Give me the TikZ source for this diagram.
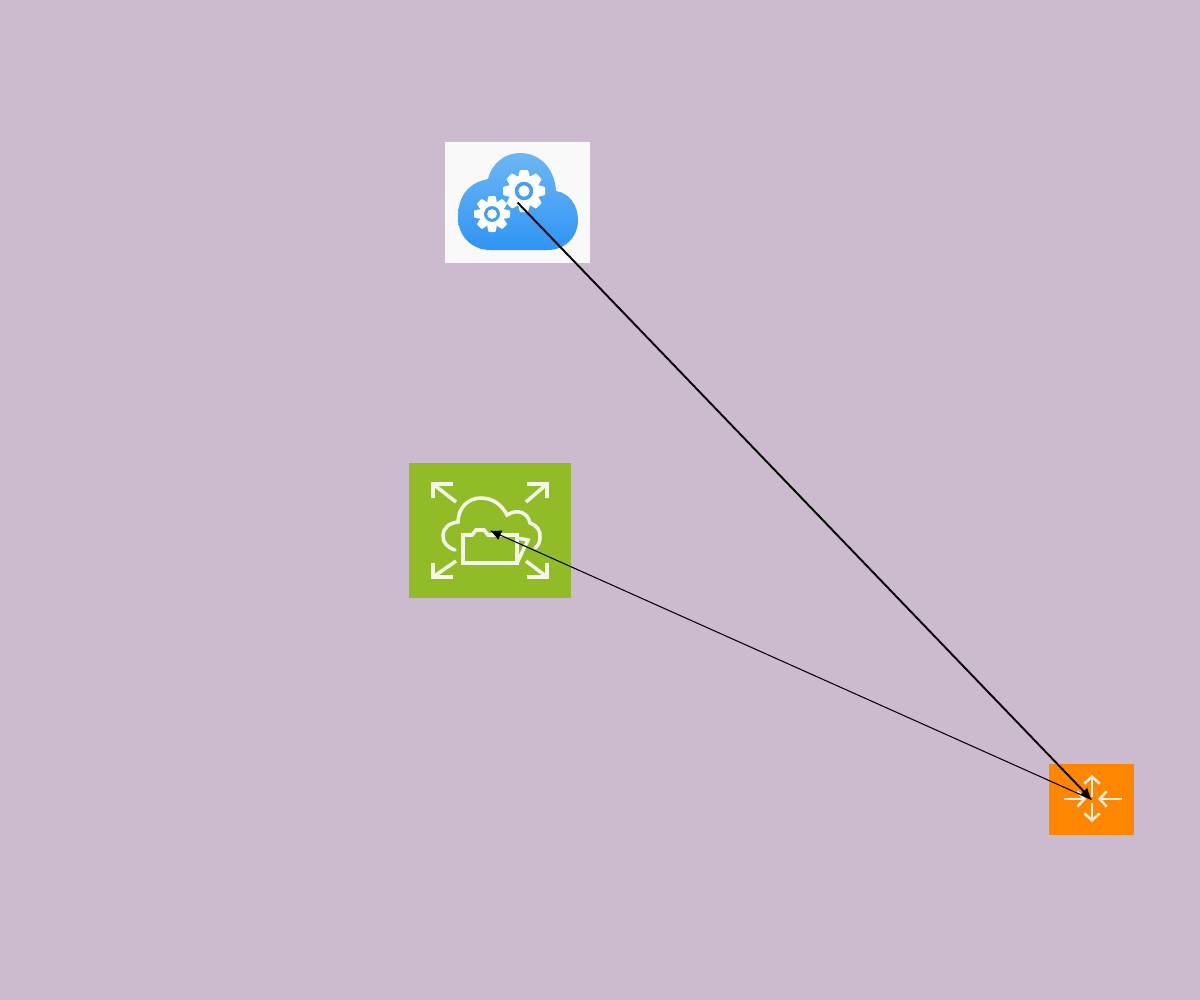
\documentclass[tikz,border=0pt]{standalone}
\usepackage{tikz}
\usetikzlibrary{arrows.meta}

\definecolor{bgmauve}{HTML}{CCBBCF}
\definecolor{cloudpaper}{HTML}{F9F9F9}
\definecolor{cloudtop}{HTML}{6DB6F5}
\definecolor{cloudbottom}{HTML}{2E95F3}
\definecolor{elbgreen}{HTML}{92BC27}
\definecolor{routerorange}{HTML}{FF8600}

\tikzset{
  iconbox/.style={draw=none, inner sep=0, outer sep=0},
  whiteline/.style={draw=white!90!elbgreen, line width=1pt, line join=miter},
  routerline/.style={draw=white!88!routerorange, line width=0.7pt,
    -{Straight Barb[length=2pt,width=4.4pt,line width=0.7pt]}},
  link/.style={black, -{Latex[length=3.2pt,width=3pt]}}
}

% gear: centre x, centre y, outer radius, body radius
\newcommand{\gearicon}[4]{
  \fill[white] (#1,#2) circle (#4);
  \foreach \ang in {0,45,...,315} {
    \fill[white, shift={(#1,#2)}, rotate=\ang, rounded corners=0.2pt]
      (#4-1,-0.27*#3) -- (#3,-0.19*#3) -- (#3,0.19*#3) -- (#4-1,0.27*#3) -- cycle;
  }
  \fill[cloudbottom!70!cloudtop] (#1,#2) circle (0.44*#3);
  \fill[white] (#1,#2) circle (0.27*#3);
}

\begin{document}
\begin{tikzpicture}[x=0.01cm, y=-0.01cm]
\useasboundingbox (0,0) rectangle (1200,1000);
\fill[bgmauve] (0,0) rectangle (1200,1000);

\node[iconbox, fill=cloudpaper, minimum width=1.45cm, minimum height=1.21cm] (cloud) at (517.5,202.5) {};
\node[iconbox, fill=elbgreen, minimum width=1.62cm, minimum height=1.35cm] (elb) at (490,530.5) {};
\node[iconbox, fill=routerorange, minimum width=0.85cm, minimum height=0.71cm] (router) at (1091.5,799.5) {};

% cloud with gears
\shade[top color=cloudtop, bottom color=cloudbottom]
  (490,250) .. controls (472,250) and (458,236) .. (458,218)
  .. controls (458,196) and (468,183) .. (488,179)
  .. controls (492,163) and (505,153) .. (520,153)
  .. controls (541,153) and (555,170) .. (556,191)
  .. controls (569,193) and (578,205) .. (578,220)
  .. controls (578,237) and (565,250) .. (548,250) -- cycle;
\gearicon{524}{191}{21}{16}
\gearicon{492}{214}{18}{13}

% corner arrows, cloud and folder
\foreach \cx/\cy/\ex/\ey/\hx/\vy in {433/484/456/502/453/498, 547/484/526/502/527/498,
    433/577/456/561/453/563, 547/577/526/561/527/563} {
  \draw[whiteline] (\hx,\cy) -- (\cx,\cy) -- (\cx,\vy);
  \draw[whiteline] (\cx,\cy) -- (\ex,\ey);
}
\draw[whiteline, line cap=round] (455,550) .. controls (447,547) and (443,543) .. (443,536)
  .. controls (443,528) and (449,523) .. (458,522)
  .. controls (458,508) and (468,498) .. (481,498)
  .. controls (493,498) and (502,505) .. (507,515)
  .. controls (518,508) and (528,513) .. (530,523)
  .. controls (537,525) and (541,531) .. (540,538)
  .. controls (540,542) and (538,546) .. (535,548);
\draw[whiteline] (517,538) -- (517,563) -- (463,563) -- (463,535) -- (472,535)
  -- (476,530) -- (484,530) -- (488,535) -- (517,535) -- (517,538) -- (528,540) -- (517,563);

% router arrows
\draw[routerline] (1092,797) -- (1092,775);
\draw[routerline] (1092,803) -- (1092,822);
\draw[routerline] (1064,799) -- (1086,799);
\draw[routerline] (1122,799) -- (1098,799);

\draw[link, line width=0.55pt] (cloud.center) -- (router.center);
\draw[link, line width=0.3pt] (router.center) -- (elb.center);
\end{tikzpicture}
\end{document}
